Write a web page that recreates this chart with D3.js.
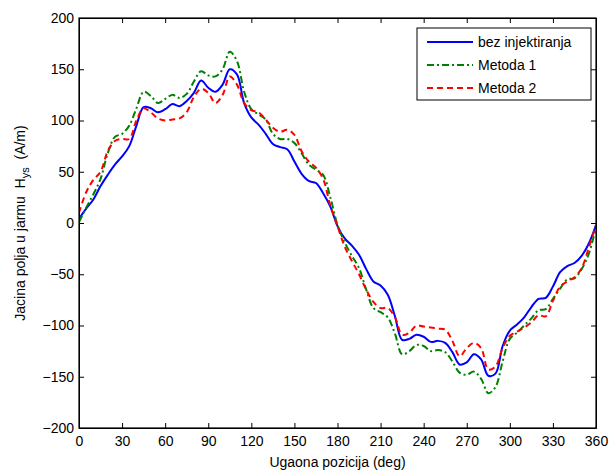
<!DOCTYPE html>
<html>
<head>
<meta charset="utf-8">
<script src="https://cdn.jsdelivr.net/npm/d3@7"></script>
<style>
  body { margin: 0; background: #fff; }
  text { font-family: Arial, "Liberation Sans", sans-serif; }
</style>
</head>
<body>
<svg id="chart"></svg>
<script>
// ugaona pozicija, korak 5 deg
var angles = d3.range(0, 361, 5);

var bezInjektiranja = [4, 14, 23, 36, 47, 57, 65, 75, 95, 113, 112, 108, 111, 116, 114, 119, 127, 139, 132, 128,
  135, 150, 145, 117, 103, 96, 87, 77, 74, 72, 60, 48, 41, 39, 29, 16, -3, -15, -22, -31,
  -45, -57, -61, -70, -91, -114, -113, -109, -111, -116, -115, -117, -126, -138, -136, -128, -133, -149, -147, -120,
  -105, -99, -92, -82, -74, -73, -62, -48, -42, -39, -32, -20, -2];

var metoda1 = [1, 15, 28, 43, 68, 84, 87, 95, 112, 128, 124, 117, 121, 125, 122, 126, 138, 148, 144, 143,
  150, 167, 158, 128, 111, 106, 101, 87, 82, 82, 78, 68, 57, 52, 47, 25, -2, -19, -32, -44,
  -65, -83, -87, -92, -108, -128, -125, -119, -120, -125, -124, -126, -135, -146, -148, -145, -152, -166, -160, -135,
  -113, -107, -100, -93, -85, -84, -74, -64, -55, -54, -45, -30, -4];

var metoda2 = [10, 30, 42, 50, 70, 80, 82, 82, 100, 112, 108, 102, 100, 101, 102, 108, 123, 131, 127, 117,
  125, 143, 135, 117, 110, 108, 101, 93, 89, 91, 86, 70, 60, 54, 43, 17, -3, -23, -37, -50,
  -65, -77, -83, -83, -92, -109, -107, -100, -101, -102, -103, -104, -115, -130, -122, -117, -122, -143, -140, -122,
  -110, -106, -102, -97, -90, -91, -76, -62, -57, -53, -44, -24, -2];

var xTicks = d3.range(0, 361, 30);
var yTicks = d3.range(-200, 201, 50);

var seriesNames = ["bez injektiranja", "Metoda 1", "Metoda 2"];
var seriesColors = ["#0000ff", "#008000", "#ff0000"];
var seriesDash = [null, "7,3,2,3", "6,4"];
var seriesValues = [bezInjektiranja, metoda1, metoda2];

var width = 610, height = 470;
var margin = {top: 18, right: 14, bottom: 42, left: 79};
var fontSize = 14;

var svg = d3.select("#chart")
    .attr("width", width)
    .attr("height", height);

var x = d3.scaleLinear().domain([0, 360]).range([margin.left, width - margin.right]);
var y = d3.scaleLinear().domain([-200, 200]).range([height - margin.bottom, margin.top]);

svg.append("defs").append("clipPath").attr("id", "clip")
  .append("rect")
    .attr("x", margin.left).attr("y", margin.top)
    .attr("width", x(360) - x(0)).attr("height", y(-200) - y(200));

var line = d3.line()
    .x(function (d, i) { return x(angles[i]); })
    .y(function (d) { return y(d); })
    .curve(d3.curveCatmullRom);

svg.append("g").attr("clip-path", "url(#clip)")
  .selectAll("path")
  .data(seriesValues)
  .enter()
  .append("path")
    .attr("d", line)
    .attr("fill", "none")
    .attr("stroke", function (d, i) { return seriesColors[i]; })
    .attr("stroke-width", 2)
    .attr("stroke-dasharray", function (d, i) { return seriesDash[i]; });

// ose, tickovi prema unutra
var tickLen = 5;
svg.append("g")
    .attr("transform", "translate(0," + y(-200) + ")")
    .call(d3.axisBottom(x).tickValues(xTicks).tickSizeInner(-tickLen).tickSizeOuter(0).tickPadding(8));
svg.append("g")
    .attr("transform", "translate(0," + y(200) + ")")
    .call(d3.axisTop(x).tickValues(xTicks).tickSizeInner(-tickLen).tickSizeOuter(0).tickFormat(""));
svg.append("g")
    .attr("transform", "translate(" + x(0) + ",0)")
    .call(d3.axisLeft(y).tickValues(yTicks).tickSizeInner(-tickLen).tickSizeOuter(0).tickPadding(5));
svg.append("g")
    .attr("transform", "translate(" + x(360) + ",0)")
    .call(d3.axisRight(y).tickValues(yTicks).tickSizeInner(-tickLen).tickSizeOuter(0).tickFormat(""));

svg.selectAll(".domain").attr("stroke", "#000").attr("stroke-width", 1);
svg.selectAll(".tick line").attr("stroke", "#000");
svg.selectAll(".tick text")
    .attr("font-family", "Arial, 'Liberation Sans', sans-serif")
    .attr("font-size", fontSize)
    .attr("fill", "#000");

svg.append("rect")
    .attr("x", x(0)).attr("y", y(200))
    .attr("width", x(360) - x(0)).attr("height", y(-200) - y(200))
    .attr("fill", "none").attr("stroke", "#000").attr("stroke-width", 1.2);

// naslovi osa
svg.append("text")
    .attr("x", (x(0) + x(360)) / 2)
    .attr("y", 467)
    .attr("text-anchor", "middle")
    .attr("font-size", fontSize)
    .text("Ugaona pozicija (deg)");

var yl = svg.append("text")
    .attr("transform", "translate(25," + ((y(200) + y(-200)) / 2) + ") rotate(-90)")
    .attr("text-anchor", "middle")
    .attr("font-size", fontSize)
    .style("white-space", "pre");
yl.append("tspan").text("Jacina polja u jarmu  H");
yl.append("tspan").attr("dy", 4).attr("font-size", 11).text("ys");
yl.append("tspan").attr("dy", -4).text("  (A/m)");

// legenda
var legend = svg.append("g");
legend.append("rect")
    .attr("x", 417).attr("y", 28)
    .attr("width", 174).attr("height", 72)
    .attr("fill", "#fff").attr("stroke", "#000").attr("stroke-width", 1);

var items = legend.selectAll("g.item")
    .data(seriesNames)
    .enter()
    .append("g")
    .attr("transform", function (d, i) { return "translate(0," + (42 + i * 23) + ")"; });
items.append("line")
    .attr("x1", 427).attr("x2", 473)
    .attr("stroke", function (d, i) { return seriesColors[i]; })
    .attr("stroke-width", 2)
    .attr("stroke-dasharray", function (d, i) { return seriesDash[i]; });
items.append("text")
    .attr("x", 478).attr("dy", "0.35em")
    .attr("font-size", fontSize)
    .text(function (d) { return d; });
</script>
</body>
</html>
